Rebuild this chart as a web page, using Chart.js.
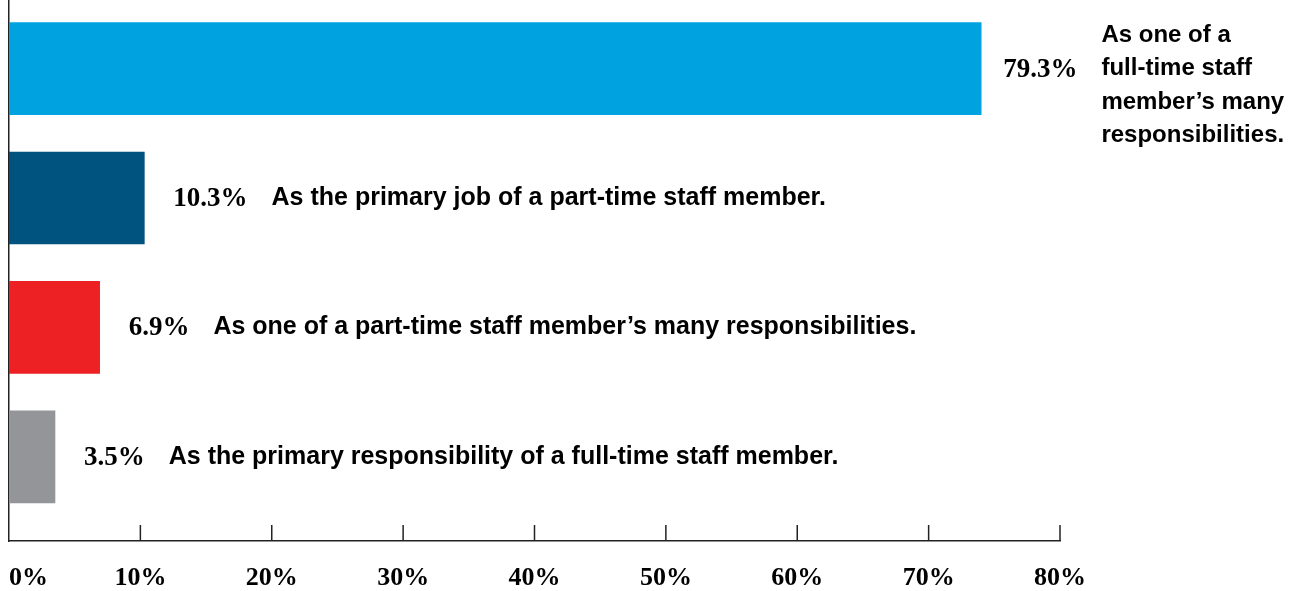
<!DOCTYPE html>
<html lang="en">
<head>
  <meta charset="UTF-8">
  <title>How the job is staffed</title>
  <style>
    html, body { margin: 0; padding: 0; background: #fff; }
    .chart-box { width: 1300px; height: 591px; }
  </style>
</head>
<body>
  <div class="chart-box">
    <canvas id="mychart"></canvas>
  </div>

  <script src="https://cdn.jsdelivr.net/npm/chart.js"></script>
  <script>
    // bar lengths as drawn in the picture (first bar is cut short to fit its label)
    const barValues = [74, 10.3, 6.9, 3.5];
    const valueLabels = ['79.3%', '10.3%', '6.9%', '3.5%'];
    const descriptions = [
      ['As one of a', 'full-time staff', 'member\u2019s many', 'responsibilities.'],
      ['As the primary job of a part-time staff member.'],
      ['As one of a part-time staff member\u2019s many responsibilities.'],
      ['As the primary responsibility of a full-time staff member.']
    ];
    const barColors = ['#00a3e0', '#00527f', '#ed2024', '#939598'];
    const xTicks = [0, 10, 20, 30, 40, 50, 60, 70, 80];

    const serif = 'bold 27px "Liberation Serif", serif';
    const sans = 'bold 25px "Liberation Sans", Arial, sans-serif';

    // labels next to bars + axis ticks pointing up
    const annotate = {
      id: 'annotate',
      afterDraw(chart) {
        const ctx = chart.ctx;
        const meta = chart.getDatasetMeta(0);
        ctx.save();
        ctx.fillStyle = '#000';
        ctx.textBaseline = 'middle';
        ctx.textAlign = 'left';
        meta.data.forEach(function(bar, i) {
          const multi = descriptions[i].length > 1;
          let x = bar.x + (multi ? 22 : 29);
          ctx.font = serif;
          ctx.fillText(valueLabels[i], x, bar.y + 1);
          x += ctx.measureText(valueLabels[i]).width + 24;
          ctx.font = multi ? 'bold 24px "Liberation Sans", Arial, sans-serif' : sans;
          const lines = descriptions[i];
          const anchor = multi ? 1 : 0;
          lines.forEach(function(line, k) {
            ctx.fillText(line, x, bar.y + (k - anchor) * 33.5);
          });
        });

        const xs = chart.scales.x;
        const bottom = chart.chartArea.bottom;
        ctx.strokeStyle = '#222';
        ctx.lineWidth = 1.5;
        ctx.font = 'bold 26px "Liberation Serif", serif';
        xTicks.forEach(function(v) {
          const px = xs.getPixelForValue(v);
          if (v > 0) {
            ctx.beginPath();
            ctx.moveTo(px, bottom);
            ctx.lineTo(px, bottom - 16);
            ctx.stroke();
          }
          ctx.textAlign = v === 0 ? 'left' : 'center';
          ctx.fillText(v + '%', px, 578);
        });
        ctx.restore();
      }
    };

    const mychart = document.getElementById('mychart');

    new Chart(mychart, {
      type: 'bar',
      data: {
        datasets: [
          {
            data: barValues.map(function(v, i) { return { x: v, y: i }; }),
            backgroundColor: barColors,
            borderWidth: 0,
            barThickness: 92
          }
        ]
      },
      options: {
        indexAxis: 'y',
        responsive: true,
        maintainAspectRatio: false,
        animation: false,
        layout: { padding: { left: 1, right: 240, top: 0, bottom: 42 } },
        plugins: {
          legend: { display: false },
          tooltip: { enabled: false }
        },
        scales: {
          x: {
            type: 'linear',
            min: 0,
            max: 80,
            ticks: { display: false, stepSize: 10 },
            grid: { display: false },
            border: { display: true, color: '#222', width: 1.5 }
          },
          y: {
            type: 'linear',
            reverse: true,
            offset: false,
            min: -0.53,
            max: 3.65,
            ticks: { display: false },
            grid: { display: false, offset: false },
            border: { display: true, color: '#222', width: 1.5 }
          }
        }
      },
      plugins: [annotate]
    });
  </script>
</body>
</html>
